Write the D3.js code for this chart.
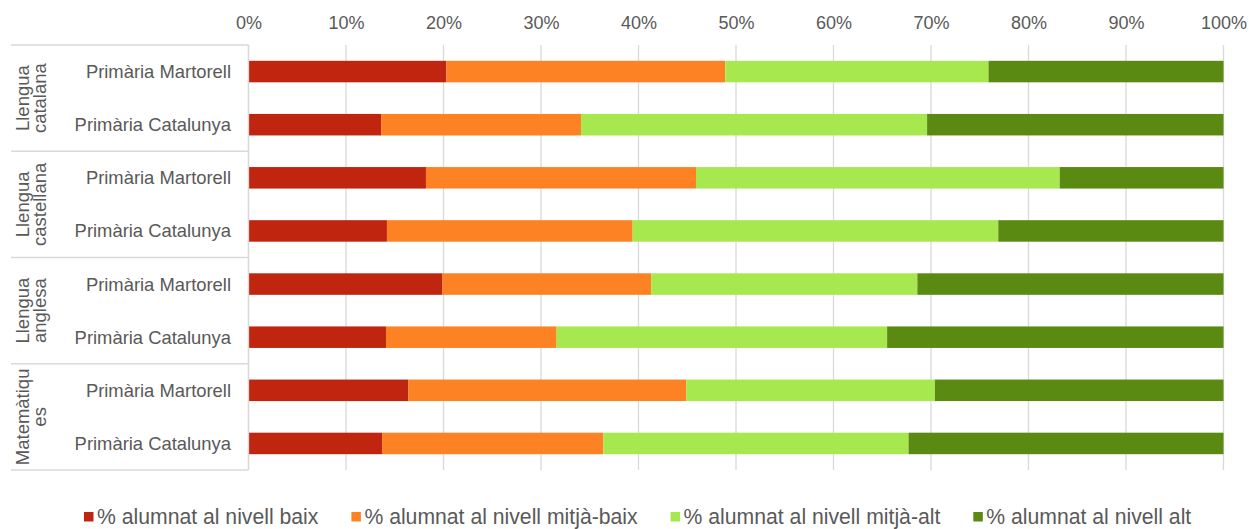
<!DOCTYPE html>
<html>
<head>
<meta charset="utf-8">
<script src="https://cdn.jsdelivr.net/npm/d3@7"></script>
<style>
  html, body { margin: 0; padding: 0; background: #fff; }
  svg { display: block; font-family: "Liberation Sans", Arial, sans-serif; }
</style>
</head>
<body>
<svg id="chart" width="1249" height="529"></svg>
<script>
// ---------- data ----------
const groups = ["Llengua catalana", "Llengua castellana", "Llengua anglesa", "Matemàtiques"];
const groupLines = [["Llengua", "catalana"], ["Llengua", "castellana"], ["Llengua", "anglesa"], ["Matemàtiqu", "es"]];
const rowLabels = ["Primària Martorell", "Primària Catalunya"];
const seriesNames = [
  "% alumnat al nivell baix",
  "% alumnat al nivell mitjà-baix",
  "% alumnat al nivell mitjà-alt",
  "% alumnat al nivell alt"
];
// order: cat-Martorell, cat-Catalunya, cast-Martorell, cast-Catalunya, angl-Martorell, angl-Catalunya, mat-Martorell, mat-Catalunya
const baix      = [20.3, 13.6, 18.2, 14.2, 19.9, 14.1, 16.4, 13.7];
const mitjaBaix = [28.6, 20.5, 27.7, 25.2, 21.4, 17.5, 28.5, 22.7];
const mitjaAlt  = [27.0, 35.5, 37.3, 37.5, 27.3, 33.9, 25.5, 31.3];
const alt       = [24.1, 30.4, 16.8, 23.1, 31.4, 34.5, 29.6, 32.3];
const tickValues = [0, 0.1, 0.2, 0.3, 0.4, 0.5, 0.6, 0.7, 0.8, 0.9, 1.0];
const colors = ["#C0250F", "#FD8224", "#A6E84E", "#5A8A12"];

// ---------- layout ----------
const svg = d3.select("#chart");
const margin = { left: 248.5, right: 25.5, top: 45, bottom: 59 };
const W = 1249, H = 529;
const textColor = "#595959";
const lineColor = "#D9D9D9";

const rows = [];
groups.forEach((g, gi) => rowLabels.forEach((r, ri) => rows.push({ id: gi * 2 + ri, group: g, label: r })));
const series = [baix, mitjaBaix, mitjaAlt, alt];

const x = d3.scaleLinear().domain([0, 1]).range([margin.left, W - margin.right]);
const y = d3.scaleBand().domain(rows.map(d => d.id)).range([margin.top, H - margin.bottom]).padding(0);
const gy = d3.scaleBand().domain(groups).range([margin.top, H - margin.bottom]).padding(0);
const barH = y.bandwidth() * 0.405;

// gridlines
svg.append("g")
  .selectAll("line")
  .data(tickValues)
  .join("line")
  .attr("x1", d => x(d)).attr("x2", d => x(d))
  .attr("y1", margin.top).attr("y2", H - margin.bottom)
  .attr("stroke", lineColor).attr("stroke-width", 1.3);

// top axis labels
const xAxis = d3.axisTop(x).tickValues(tickValues).tickFormat(d3.format(".0%")).tickSize(0).tickPadding(0);
const axG = svg.append("g").attr("transform", `translate(0, 29)`).call(xAxis);
axG.select(".domain").remove();
axG.selectAll("text")
  .attr("fill", textColor)
  .attr("font-size", 18)
  .attr("font-family", '"Liberation Sans", Arial, sans-serif');

// stacked bars
const stackData = rows.map(r => {
  const o = { id: r.id };
  series.forEach((s, si) => o["s" + si] = s[r.id] / 100);
  return o;
});
const stacked = d3.stack().keys(["s0", "s1", "s2", "s3"])(stackData);
svg.append("g")
  .selectAll("g")
  .data(stacked)
  .join("g")
  .attr("fill", (d, i) => colors[i])
  .selectAll("rect")
  .data(d => d)
  .join("rect")
  .attr("x", d => x(d[0]))
  .attr("width", d => x(d[1]) - x(d[0]))
  .attr("y", d => y(d.data.id) + (y.bandwidth() - barH) / 2)
  .attr("height", barH);

// category axis line
svg.append("line")
  .attr("x1", x(0)).attr("x2", x(0))
  .attr("y1", margin.top).attr("y2", H - margin.bottom)
  .attr("stroke", lineColor).attr("stroke-width", 1.3);

// group separator lines
const seps = groups.map(g => gy(g)).concat([H - margin.bottom]);
svg.append("g")
  .selectAll("line")
  .data(seps)
  .join("line")
  .attr("x1", 11).attr("x2", x(0))
  .attr("y1", d => d).attr("y2", d => d)
  .attr("stroke", lineColor).attr("stroke-width", 1.3);

// row labels
svg.append("g")
  .selectAll("text")
  .data(rows)
  .join("text")
  .attr("x", 231)
  .attr("y", d => y(d.id) + y.bandwidth() / 2)
  .attr("text-anchor", "end")
  .attr("dominant-baseline", "central")
  .attr("fill", textColor)
  .attr("font-size", 18.4)
  .text(d => d.label);

// group labels (rotated, two lines)
const gl = svg.append("g")
  .selectAll("text")
  .data(groups)
  .join("text")
  .attr("transform", d => `translate(31, ${gy(d) + gy.bandwidth() / 2}) rotate(-90)`)
  .attr("text-anchor", "middle")
  .attr("fill", textColor)
  .attr("font-size", 18.5);
gl.each(function (d, i) {
  const t = d3.select(this);
  groupLines[i].forEach((ln, li) => {
    t.append("tspan")
      .attr("x", 0)
      .attr("y", li === 0 ? -8.8 : 8.8)
      .attr("dominant-baseline", "central")
      .text(ln);
  });
});

// legend
const leg = svg.append("g").attr("transform", `translate(0, 516)`);
let lx = 84;
seriesNames.forEach((name, i) => {
  const g = leg.append("g").attr("transform", `translate(${lx}, 0)`);
  g.append("rect").attr("x", 0).attr("y", -4).attr("width", 9.5).attr("height", 9.5).attr("fill", colors[i]);
  const t = g.append("text")
    .attr("x", 13)
    .attr("y", 0)
    .attr("dominant-baseline", "central")
    .attr("fill", textColor)
    .attr("font-size", 21.2)
    .text(name);
  const w = t.node().getComputedTextLength();
  lx += 13 + w + 33;
});
</script>
</body>
</html>
